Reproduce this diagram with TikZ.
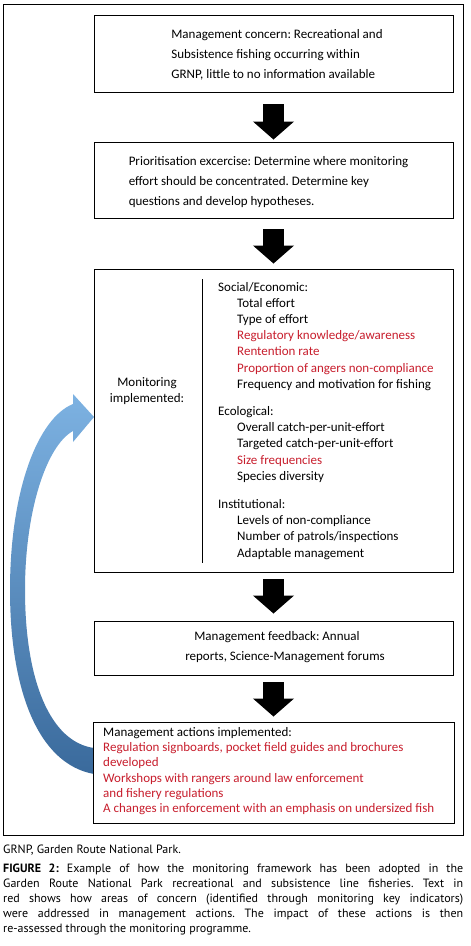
\documentclass[tikz,border=0pt]{standalone}
\usepackage{fontspec}
\setmainfont{Carlito}
\newfontfamily\capfont{PT Sans}
\usetikzlibrary{arrows.meta,calc}
\definecolor{txtred}{RGB}{200,30,45}
\definecolor{arclight}{RGB}{125,178,226}
\definecolor{arcdark}{RGB}{58,106,156}
\frenchspacing
\begin{document}
\begin{tikzpicture}[x=1pt,y=-1pt,
  box/.style={draw=black, line width=0.9pt, fill=white, inner sep=0pt},
  blockarr/.style={line width=21pt, -{Triangle[width=40pt,length=18pt]}, black},
  txt/.style={font=\fontsize{13}{20}\selectfont, inner sep=0pt},
  li/.style={font=\fontsize{13}{16}\selectfont, inner sep=0pt, anchor=base west},
  capt/.style={font=\capfont\fontsize{12}{15}\selectfont\frenchspacing, inner sep=0pt}
  ]
\useasboundingbox (0,0) rectangle (471,946);
% outer frame
\draw[line width=0.9pt] (3,4) rectangle (463,835);

% curved feedback arrow
\shade[top color=arclight, bottom color=arcdark]
  (94,774) .. controls (38,764) and (10,690) .. (10,590)
  .. controls (10,490) and (38,418) .. (73,404)
  -- (73,394) -- (94,417) -- (73,442) -- (73,431)
  .. controls (46,446) and (25,512) .. (25,590)
  .. controls (25,680) and (50,742) .. (94,748) -- cycle;

% boxes
\node[box, minimum width=359pt, minimum height=77pt] (b1) at (273.5,53.5) {};
\node[box, minimum width=359pt, minimum height=76pt] (b2) at (273.5,180) {};
\node[box, minimum width=359pt, minimum height=303pt] (b3) at (273.5,420.5) {};
\node[box, minimum width=359pt, minimum height=54pt] (b4) at (273.5,648) {};
\node[box, minimum width=361pt, minimum height=101pt] (b5) at (273.5,772.5) {};

% block arrows
\draw[blockarr] ($(b1.south)+(0,12)$) -- ($(b2.north)+(0,-2)$);
\draw[blockarr] ($(b2.south)+(0,11)$) -- ($(b3.north)+(0,-5)$);
\draw[blockarr] ($(b3.south)+(0,7)$) -- ($(b4.north)+(0,-7)$);
\draw[blockarr] ($(b4.south)+(0,7)$) -- ($(b5.north)+(0,-5)$);

% box texts
\node[txt, align=left] (t1) at (277,55) {Management concern: Recreational and\\Subsistence fishing occurring within\\GRNP, little to no information available};
\node[txt, align=left] (t2) at (268.5,182.5) {Prioritisation excercise: Determine where monitoring\\effort should be concentrated. Determine key\\questions and develop hypotheses.};
\node[txt, align=center, font=\fontsize{13}{16}\selectfont] (t3) at (147,391) {Monitoring\\implemented:};
\node[txt, align=center] (t4) at (277,647) {Management feedback: Annual\\\hspace*{16pt}reports, Science-Management forums};
\node[txt, align=left, anchor=north west, font=\fontsize{13}{15.3}\selectfont] (t5) at (103,727) {Management actions implemented:\\
  \textcolor{txtred}{Regulation signboards, pocket field guides and brochures}\\
  \textcolor{txtred}{developed}\\
  \textcolor{txtred}{Workshops with rangers around law enforcement}\\
  \textcolor{txtred}{and fishery regulations}\\
  \textcolor{txtred}{A changes in enforcement with an emphasis on undersized fish}};

% divider in monitoring box
\coordinate (d1) at (202,279);
\coordinate (d2) at (202,563);
\draw[line width=0.9pt] (d1) -- (d2);

% monitoring list
\node[li] (l1) at (218,291) {Social/Economic:};
\node[li] (l2) at (237,307) {Total effort};
\node[li] (l3) at (237,323) {Type of effort};
\node[li, text=txtred] (l4) at (237,339) {Regulatory knowledge/awareness};
\node[li, text=txtred] (l5) at (237,355) {Rentention rate};
\node[li, text=txtred] (l6) at (237,372) {Proportion of angers non-compliance};
\node[li] (l7) at (237,388) {Frequency and motivation for fishing};
\node[li] (l8) at (218,415) {Ecological:};
\node[li] (l9) at (237,431) {Overall catch-per-unit-effort};
\node[li] (l10) at (237,447) {Targeted catch-per-unit-effort};
\node[li, text=txtred] (l11) at (237,464) {Size frequencies};
\node[li] (l12) at (237,480) {Species diversity};
\node[li] (l13) at (218,508) {Institutional:};
\node[li] (l14) at (237,524) {Levels of non-compliance};
\node[li] (l15) at (237,540) {Number of patrols/inspections};
\node[li] (l16) at (237,557) {Adaptable management};

% caption
\node[capt, anchor=base west] (g) at (3,853) {GRNP, Garden Route National Park.};
\node[capt, anchor=north west, text width=460pt, align=justify] (cap) at (3,864) {\textbf{FIGURE 2:} Example of how the monitoring framework has been adopted in the\linebreak Garden Route National Park recreational and subsistence line fisheries. Text in\linebreak red shows how areas of concern (identified through monitoring key indicators)\linebreak were addressed in management actions. The impact of these actions is then\linebreak re-assessed through the monitoring programme.};
\end{tikzpicture}
\end{document}
